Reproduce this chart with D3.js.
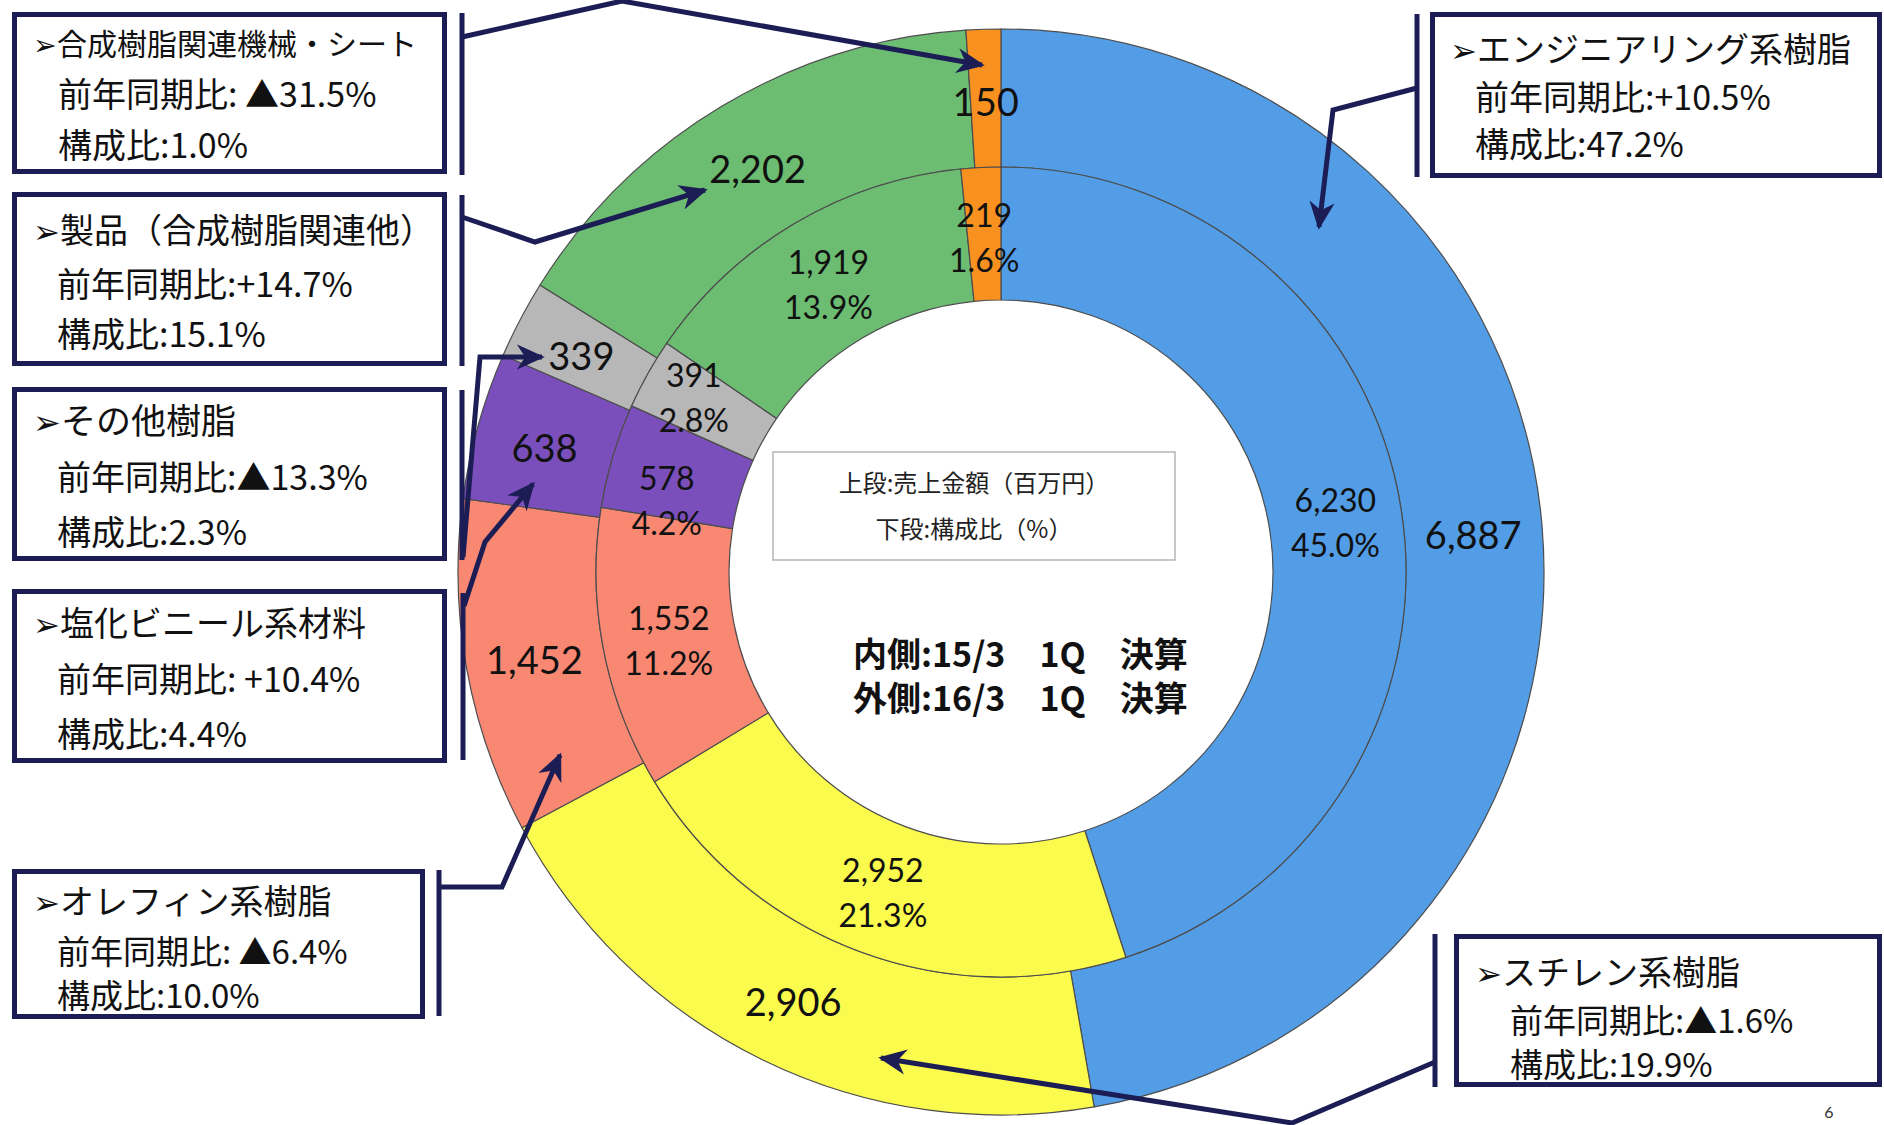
<!DOCTYPE html>
<html>
<head>
<meta charset="utf-8">
<script src="https://cdn.jsdelivr.net/npm/d3@7/dist/d3.min.js"></script>
<style>
  html, body { margin: 0; padding: 0; background: #ffffff; }
  svg { display: block; }
</style>
</head>
<body>
<svg id="chart" width="1884" height="1125"></svg>
<script>
// ---------------- DATA ----------------
const categories = ["エンジニアリング系樹脂", "スチレン系樹脂", "オレフィン系樹脂", "塩化ビニール系材料", "その他樹脂", "製品（合成樹脂関連他）", "合成樹脂関連機械・シート"];
const inner15 = [6230, 2952, 1552, 578, 391, 1919, 219];   // 内側: 15/3 1Q
const outer16 = [6887, 2906, 1452, 638, 339, 2202, 150];   // 外側: 16/3 1Q
const yoyLabels = ["+10.5%", "▲1.6%", "▲6.4%", "+10.4%", "▲13.3%", "+14.7%", "▲31.5%"];
const shareLabels = ["47.2%", "19.9%", "10.0%", "4.4%", "2.3%", "15.1%", "1.0%"];
const periodLabels = ["内側:15/3\u20031Q\u2002\u2002決算", "外側:16/3\u20031Q\u2002\u2002決算"];
const colors = ["#529de6", "#fbfb4e", "#f98873", "#7a4fbb", "#b7b7b7", "#6cbd72", "#f8911f"];

// ---------------- LAYOUT ----------------
const W = 1884, H = 1125;
const cx = 1001, cy = 572;
const rHole = 272, rMid = 405, rOuter = 543;
const navy = "#1d1d55";
const numFont = "Lato, 'Open Sans', 'Noto Sans', sans-serif";
const jpFont = "'Noto Sans CJK JP', 'Noto Sans', sans-serif";
// small label nudges (px) for crowded inner slices, by slice index
const innerNudge = { 3: [-10, 22], 4: [-12, -12] };

// callout boxes: index into categories, rect, bar, text, connector
const callouts = [
  { i: 6, box: [12, 12, 435, 162], bar: [462, 13, 175], tx: 33, lx: 58, sizes: [30, 34, 34], ys: [55, 107, 158], sep: " ",
    path: [[462, 37], [622, 1], [982, 65]] },
  { i: 5, box: [12, 192, 435, 174], bar: [462, 195, 366], tx: 33, lx: 57, sizes: [34, 34, 34], ys: [243, 297, 347], sep: "",
    path: [[462, 217], [535, 242], [705, 190]] },
  { i: 4, box: [12, 387, 435, 174], bar: [462, 390, 560], tx: 33, lx: 57, sizes: [35, 34, 34], ys: [434, 490, 545], sep: "",
    path: [[463, 557], [480, 357], [542, 357]] },
  { i: 3, box: [12, 589, 435, 174], bar: [463, 593, 760], tx: 33, lx: 57, sizes: [34, 34, 34], ys: [636, 692, 747], sep: " ",
    path: [[464, 606], [485, 542], [533, 484]] },
  { i: 2, box: [12, 869, 413, 150], bar: [439, 870, 1016], tx: 33, lx: 57, sizes: [34, 33, 33], ys: [914, 964, 1008], sep: " ",
    path: [[439, 887], [502, 887], [560, 755]] },
  { i: 0, box: [1430, 12, 452, 166], bar: [1417, 14, 177], tx: 1450, lx: 1475, sizes: [34, 34, 34], ys: [62, 110, 157], sep: "",
    path: [[1417, 88], [1333, 110], [1319, 227]] },
  { i: 1, box: [1454, 934, 428, 153], bar: [1435, 934, 1087], tx: 1475, lx: 1510, sizes: [34, 33, 33], ys: [985, 1033, 1077], sep: "",
    path: [[1435, 1062], [1292, 1123], [881, 1058]] }
];

// ---------------- DRAW ----------------
const svg = d3.select("#chart");
svg.append("rect").attr("width", W).attr("height", H).attr("fill", "#ffffff");

const defs = svg.append("defs");
defs.append("marker")
  .attr("id", "arrow")
  .attr("viewBox", "0 0 20 20")
  .attr("refX", 18).attr("refY", 10)
  .attr("markerWidth", 28).attr("markerHeight", 28)
  .attr("markerUnits", "userSpaceOnUse")
  .attr("orient", "auto")
  .append("path")
  .attr("d", "M0,1 L20,10 L0,19 L6,10 Z")
  .attr("fill", navy);

const pie = d3.pie().sort(null).value(d => d).startAngle(0).endAngle(2 * Math.PI);
const g = svg.append("g").attr("transform", `translate(${cx},${cy})`);

function ring(values, r0, r1, cls) {
  const arcs = pie(values);
  const arc = d3.arc().innerRadius(r0).outerRadius(r1);
  g.append("g").attr("class", cls)
    .selectAll("path").data(arcs).join("path")
    .attr("d", arc)
    .attr("fill", (d, i) => colors[i])
    .attr("stroke", "#4d4d4d")
    .attr("stroke-width", 1.2);
  return arcs;
}

const outerArcs = ring(outer16, rMid, rOuter, "outer");
const innerArcs = ring(inner15, rHole, rMid, "inner");

const fmt = d3.format(",");
const pct = d3.format(".1f");
const innerTotal = d3.sum(inner15);

// outer labels
const outerLabelArc = d3.arc().innerRadius((rMid + rOuter) / 2).outerRadius((rMid + rOuter) / 2);
g.append("g").selectAll("text").data(outerArcs).join("text")
  .attr("transform", d => `translate(${outerLabelArc.centroid(d)})`)
  .attr("text-anchor", "middle")
  .attr("dominant-baseline", "central")
  .attr("y", 3)
  .attr("font-family", numFont)
  .attr("font-size", 38)
  .attr("fill", "#111")
  .text(d => fmt(d.data));

// inner labels
const innerLabelArc = d3.arc().innerRadius((rHole + rMid) / 2).outerRadius((rHole + rMid) / 2);
const il = g.append("g").selectAll("text").data(innerArcs).join("text")
  .attr("transform", (d, i) => {
    const [x, y] = innerLabelArc.centroid(d);
    const n = innerNudge[i] || [0, 0];
    return `translate(${x + n[0]},${y + n[1]})`;
  })
  .attr("text-anchor", "middle")
  .attr("dominant-baseline", "central")
  .attr("font-family", numFont)
  .attr("font-size", 32)
  .attr("fill", "#111");
il.append("tspan").attr("x", 0).attr("y", -20).text(d => fmt(d.data));
il.append("tspan").attr("x", 0).attr("y", 25).text(d => pct(d.data / innerTotal * 100) + "%");

// centre legend box
svg.append("rect").attr("x", 773).attr("y", 452).attr("width", 402).attr("height", 108)
  .attr("fill", "#ffffff").attr("stroke", "#b5b5b5").attr("stroke-width", 1.5);
svg.append("text").attr("x", 974).attr("y", 492).attr("text-anchor", "middle")
  .attr("font-family", jpFont).attr("font-size", 24).attr("fill", "#222")
  .text("上段:売上金額（百万円）");
svg.append("text").attr("x", 974).attr("y", 538).attr("text-anchor", "middle")
  .attr("font-family", jpFont).attr("font-size", 24).attr("fill", "#222")
  .text("下段:構成比（%）");

// period caption (one text block, two lines)
const pt = svg.append("text").attr("x", 853).attr("y", 667)
  .attr("font-family", jpFont).attr("font-size", 34).attr("font-weight", 700).attr("fill", "#111")
  .attr("style", "white-space: pre");
periodLabels.forEach((s, k) => {
  pt.append("tspan").attr("x", 853).attr("y", 667 + k * 44).text(s);
});

// callouts
const line = d3.line();
callouts.forEach(c => {
  svg.append("rect")
    .attr("x", c.box[0] + 2.5).attr("y", c.box[1] + 2.5)
    .attr("width", c.box[2] - 5).attr("height", c.box[3] - 5)
    .attr("fill", "#ffffff").attr("stroke", navy).attr("stroke-width", 5);
  svg.append("line")
    .attr("x1", c.bar[0]).attr("x2", c.bar[0]).attr("y1", c.bar[1]).attr("y2", c.bar[2])
    .attr("stroke", navy).attr("stroke-width", 5);
  svg.append("path")
    .attr("d", line(c.path))
    .attr("fill", "none").attr("stroke", navy).attr("stroke-width", 5)
    .attr("stroke-linejoin", "miter")
    .attr("marker-end", "url(#arrow)");

  const t1 = svg.append("text").attr("x", c.tx).attr("y", c.ys[0])
    .attr("font-family", jpFont).attr("font-size", c.sizes[0]).attr("fill", "#111");
  t1.append("tspan").attr("font-family", "'DejaVu Sans', sans-serif").attr("font-size", c.sizes[0] * 0.95).text("➢");
  t1.append("tspan").text(categories[c.i]);

  svg.append("text").attr("x", c.lx).attr("y", c.ys[1])
    .attr("font-family", jpFont).attr("font-size", c.sizes[1]).attr("fill", "#111")
    .text("前年同期比:" + c.sep + yoyLabels[c.i]);
  svg.append("text").attr("x", c.lx).attr("y", c.ys[2])
    .attr("font-family", jpFont).attr("font-size", c.sizes[2]).attr("fill", "#111")
    .text("構成比:" + shareLabels[c.i]);
});

// page number
svg.append("text").attr("x", 1829).attr("y", 1118).attr("text-anchor", "middle")
  .attr("font-family", numFont).attr("font-size", 16).attr("fill", "#333").text("6");
</script>
</body>
</html>
